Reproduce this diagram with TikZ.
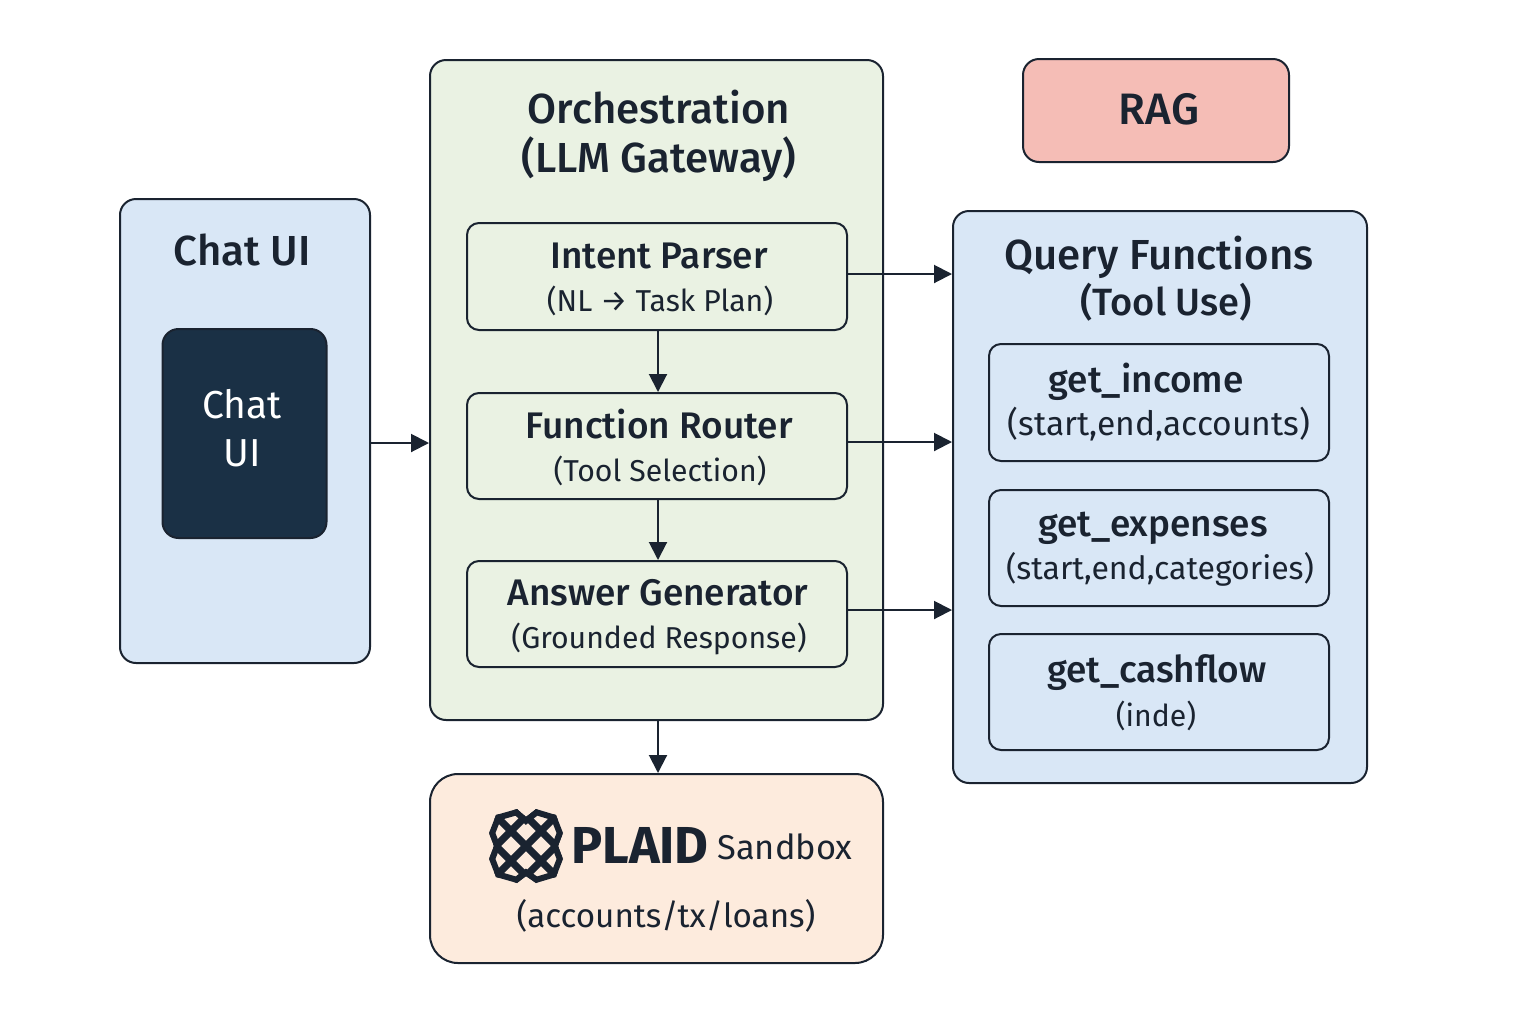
\documentclass[tikz,border=0pt]{standalone}
\usepackage{fontspec}
\setmainfont{Fira Sans}
\newfontfamily\mediumfont{Fira Sans Medium}
\usetikzlibrary{positioning, arrows.meta}
\definecolor{ink}{HTML}{1A2330}
\definecolor{navy}{HTML}{1A3045}
\definecolor{uiblue}{HTML}{D9E7F6}
\definecolor{orchgreen}{HTML}{EAF2E3}
\definecolor{ragred}{HTML}{F5BDB6}
\definecolor{plaidpeach}{HTML}{FDEBDD}
\tikzset{
	box/.style={draw=ink, line width=1pt, rounded corners=8pt, text=ink, align=center},
	subbox/.style={box, rounded corners=6pt},
	title/.style={text=ink, align=center, font=\fontsize{21}{24.5}\mediumfont},
	subname/.style={text=ink, align=center, font=\fontsize{18.5}{22}\mediumfont},
	subnote/.style={text=ink, align=center, font=\fontsize{15.1}{20}\selectfont},
	flow/.style={-{Triangle[length=9pt,width=9pt]}, draw=ink, line width=1pt},
}
\begin{document}
\begin{tikzpicture}[x=.5pt, y=-.5pt]
		\useasboundingbox (0,0) rectangle (1536,1024);

		% nodes - containers %
		\node[box, fill=uiblue, minimum width=125pt, minimum height=232pt] (chat) at (245,431) {};
		\node[box, fill=navy, minimum width=82pt, minimum height=104.5pt] (chatinner) at (244.5,433.5) {};
		\node[text=white, align=center, font=\fontsize{19.5}{24}\selectfont] (chattext) at (242,428) {Chat\\UI};
		\node[box, fill=orchgreen, minimum width=226.5pt, minimum height=330pt] (orch) at (656.5,390) {};
		\node[box, fill=ragred, minimum width=133pt, minimum height=51.5pt] (rag) at (1156,110.5) {};
		\node[title, font=\fontsize{22}{25}\mediumfont] (ragtitle) at (1159,109) {RAG};
		\node[box, fill=uiblue, minimum width=207pt, minimum height=286pt] (query) at (1160,497) {};
		\node[box, fill=plaidpeach, rounded corners=14pt, minimum width=226.5pt, minimum height=94.5pt] (plaid) at (656.5,868.5) {};

		% nodes - titles %
		\node[title] (chattitle) at (242,250) {Chat UI};
		\node[title] (orchtitle) at (659,136) {Orchestration\\(LLM Gateway)};
		\node[title] (querytitle) at (1159,257) {Query Functions};
		\node[title, font=\fontsize{19}{24}\mediumfont] (querysub) at (1166,302) {(Tool Use)};

		% nodes - inside orchestration %
		\node[subbox, fill=orchgreen, minimum width=190pt, minimum height=53.5pt] (intent) at (657,276.5) {};
		\node[subbox, fill=orchgreen, minimum width=190pt, minimum height=53pt] (router) at (657,446) {};
		\node[subbox, fill=orchgreen, minimum width=190pt, minimum height=53pt] (answer) at (657,614) {};
		\node[subname] (intentname) at (659,256) {Intent Parser};
		\node[subnote] (intentnote) at (660,301) {(NL → Task Plan)};
		\node[subname] (routername) at (659,424) {Function Router};
		\node[subnote] (routernote) at (660,471) {(Tool Selection)};
		\node[subname] (answername) at (658,593) {Answer Generator};
		\node[subnote] (answernote) at (659,639) {(Grounded Response)};

		% nodes - inside query functions %
		\node[subbox, fill=uiblue, minimum width=170pt, minimum height=58.5pt] (income) at (1159,402.5) {};
		\node[subbox, fill=uiblue, minimum width=170pt, minimum height=58pt] (expenses) at (1159,548) {};
		\node[subbox, fill=uiblue, minimum width=170pt, minimum height=58pt] (cashflow) at (1159,692) {};
		\node[subname] (incomename) at (1146,382) {get\_income};
		\node[subnote, font=\fontsize{16.8}{20}\selectfont] (incomenote) at (1159,424) {(start,end,accounts)};
		\node[subname] (expensesname) at (1153,528) {get\_expenses};
		\node[subnote, font=\fontsize{16}{20}\selectfont] (expensesnote) at (1160,569) {(start,end,categories)};
		\node[subname] (cashflowname) at (1157,673) {get\_cashflow};
		\node[subnote] (cashflownote) at (1156,716) {(inde)};

		% nodes - plaid %
		\node[text=ink, font=\fontsize{26}{30}\selectfont\bfseries] (plaidname) at (640,845) {PLAID};
		\node[text=ink, font=\fontsize{17.2}{22}\selectfont] (plaidsand) at (785,847) {Sandbox};
		\node[text=ink, font=\fontsize{16.6}{22}\selectfont] (plaidnote) at (666,916) {(accounts/tx/loans)};

		% logo %
		\begin{scope}
			\clip (517,809) -- (526,817) -- (536,809) -- (556,815) -- (563,833) -- (558,846) -- (563,859) -- (556,877) -- (536,883) -- (526,876) -- (517,883) -- (496,877) -- (489,859) -- (494,846) -- (489,833) -- (496,815) -- cycle;
			\foreach \off in {-15,0,15} {
				\draw[ink, line width=3.6pt] (526-50+\off,846-50-\off) -- (526+50+\off,846+50-\off);
				\draw[ink, line width=3.6pt] (526-50+\off,846+50+\off) -- (526+50+\off,846-50+\off);
			}
			\draw[ink, line width=6pt] (517,809) -- (526,817) -- (536,809) -- (556,815) -- (563,833) -- (558,846) -- (563,859) -- (556,877) -- (536,883) -- (526,876) -- (517,883) -- (496,877) -- (489,859) -- (494,846) -- (489,833) -- (496,815) -- cycle;
		\end{scope}

		% edges %
		\draw[flow] ([yshift=-6pt]chat.east) -- ([yshift=-6pt]chat.east -| orch.west);
		\draw[flow] ([yshift=1.25pt]intent.east) -- ([yshift=1.25pt]intent.east -| query.west);
		\draw[flow] ([yshift=2pt]router.east) -- ([yshift=2pt]router.east -| query.west);
		\draw[flow] ([yshift=2pt]answer.east) -- ([yshift=2pt]answer.east -| query.west);
		\draw[flow] ([xshift=.5pt]intent.south) -- ([xshift=.5pt]router.north);
		\draw[flow] ([xshift=.5pt]router.south) -- ([xshift=.5pt]answer.north);
		\draw[flow] ([xshift=.5pt]intent.south |- orch.south) -- ([xshift=.5pt]intent.south |- plaid.north);
\end{tikzpicture}
\end{document}
